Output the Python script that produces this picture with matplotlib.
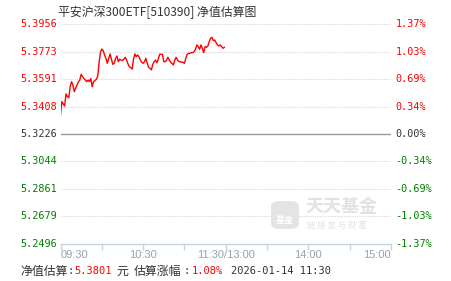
import matplotlib
matplotlib.use("Agg")
import matplotlib.pyplot as plt
from matplotlib.patches import FancyBboxPatch

# 估算净值 (每分钟, 从 09:30 开始)
minutes = list(range(120))
nav = [
    5.3352, 5.3441, 5.3425, 5.3412, 5.3492, 5.3474, 5.3467, 5.3540, 5.3573, 5.3551,
    5.3507, 5.3529, 5.3551, 5.3573, 5.3584, 5.3622, 5.3607, 5.3595, 5.3584, 5.3573,
    5.3584, 5.3573, 5.3595, 5.3540, 5.3573, 5.3580, 5.3589, 5.3607, 5.3699, 5.3766,
    5.3790, 5.3779, 5.3750, 5.3728, 5.3695, 5.3728, 5.3757, 5.3722, 5.3688, 5.3695,
    5.3728, 5.3744, 5.3706, 5.3722, 5.3717, 5.3713, 5.3722, 5.3735, 5.3717, 5.3691,
    5.3673, 5.3666, 5.3657, 5.3722, 5.3757, 5.3739, 5.3750, 5.3739, 5.3717, 5.3702,
    5.3695, 5.3706, 5.3728, 5.3695, 5.3668, 5.3662, 5.3651, 5.3688, 5.3706, 5.3717,
    5.3699, 5.3722, 5.3755, 5.3755, 5.3755, 5.3706, 5.3706, 5.3717, 5.3735, 5.3717,
    5.3702, 5.3695, 5.3684, 5.3717, 5.3735, 5.3717, 5.3706, 5.3706, 5.3702, 5.3702,
    5.3695, 5.3728, 5.3755, 5.3761, 5.3761, 5.3766, 5.3766, 5.3772, 5.3788, 5.3817,
    5.3806, 5.3788, 5.3817, 5.3795, 5.3766, 5.3806, 5.3801, 5.3810, 5.3839, 5.3861,
    5.3868, 5.3845, 5.3850, 5.3832, 5.3817, 5.3810, 5.3817, 5.3806, 5.3795, 5.3801,
]

prev_nav = 5.3226
y_ticks = [5.2496, 5.2679, 5.2861, 5.3044, 5.3226, 5.3408, 5.3591, 5.3773, 5.3956]
pct_labels = ["-1.37%", "-1.03%", "-0.69%", "-0.34%", "0.00%",
              "0.34%", "0.69%", "1.03%", "1.37%"]
x_ticks = [0, 30, 60, 90, 120, 150, 180, 210, 240]
x_labels = {0: "09:30", 60: "10:30", 120: "11:30/13:00", 180: "14:00", 240: "15:00"}

title = "平安沪深300ETF[510390] 净值估算图"
est_nav = "5.3801"
est_pct = "1.08%"
stamp = "2026-01-14 11:30"

W, H = 451, 281
fig = plt.figure(figsize=(W / 100, H / 100), dpi=100)
fig.patch.set_facecolor("white")

left, right, top, bottom = 60.5, 391, 24, 244
ax = fig.add_axes([left / W, 1 - bottom / H, (right - left) / W, (bottom - top) / H])
ax.set_xlim(0, 240)
ax.set_ylim(y_ticks[0], y_ticks[-1])

for v in y_ticks:
    if v == prev_nav:
        ax.axhline(v, color="#999999", lw=1.0, zorder=2)
    elif v != y_ticks[0]:
        ax.axhline(v, color="#d8d8d8", lw=0.8, ls=(0, (1, 1)), zorder=1)

ax.plot(minutes, nav, color="#ff0000", lw=1.0, zorder=3)

for s in ["left", "right", "top"]:
    ax.spines[s].set_visible(False)
ax.spines["bottom"].set_color("#c5d3e0")
ax.spines["bottom"].set_linewidth(1.0)
ax.set_yticks([])
ax.set_xticks(x_ticks)
ax.set_xticklabels([])
ax.tick_params(axis="x", length=4, width=1.0, color="#c5d3e0", direction="out")

mono = "DejaVu Sans Mono"
for v, p in zip(y_ticks, pct_labels):
    if v > prev_nav:
        c = "#ff0000"
    elif v < prev_nav:
        c = "#008000"
    else:
        c = "#333333"
    ax.text(-3.5 / (right - left) * 240, v, f"{v:.4f}", ha="right", va="center",
            fontsize=7.3, family=mono, color=c)
    ax.text(240 + 4.5 / (right - left) * 240, v, p, ha="left", va="center",
            fontsize=7.3, family=mono, color=c)

for m, lab in x_labels.items():
    ha = "left" if m == 0 else ("right" if m == 240 else "center")
    ax.text(m, y_ticks[0] - 0.0073, lab, ha=ha, va="center", fontsize=8,
            family="Liberation Sans", color="#a0a0a0")

cjk = ["Noto Sans CJK SC", "DejaVu Sans"]
fig.text(58 / W, 1 - 12.5 / H, title, ha="left", va="center", fontsize=8.6,
         family=cjk, color="#333333")

# 底部信息行
row_y = 1 - 271 / H
fig.text(20 / W, row_y, "净值估算", ha="left", va="center", fontsize=8.6, family=cjk, color="#333333")
fig.text(68 / W, row_y, ":", ha="left", va="center", fontsize=7.5, family=mono, color="#333333")
fig.text(74 / W, row_y, est_nav, ha="left", va="center", fontsize=7.5, family=mono, color="#ff0000")
fig.text(116 / W, row_y, "元", ha="left", va="center", fontsize=8.6, family=cjk, color="#333333")
fig.text(134 / W, row_y, "估算涨幅", ha="left", va="center", fontsize=8.6, family=cjk, color="#333333")
fig.text(184 / W, row_y, ":", ha="left", va="center", fontsize=7.5, family=mono, color="#333333")
fig.text(192 / W, row_y, est_pct, ha="left", va="center", fontsize=7.5, family=mono, color="#ff0000")
fig.text(231 / W, row_y, stamp, ha="left", va="center", fontsize=7.5, family=mono, color="#333333")

# 水印
icon = FancyBboxPatch((271 / W, 1 - 229 / H), 28 / W, 28 / H,
                      boxstyle="round,pad=0,rounding_size=0.02",
                      transform=fig.transFigure, facecolor="#e4e4e4",
                      edgecolor="none", zorder=0)
fig.patches.append(icon)
fig.text(285 / W, 1 - 220 / H, "基金", ha="center", va="center", fontsize=6.5,
         family=cjk, color="white", weight="bold")
fig.text(306 / W, 1 - 207 / H, "天天基金", ha="left", va="center", fontsize=13,
         family=cjk, color="#e2e2e2", weight="bold")
fig.text(307 / W, 1 - 225 / H, "链 接 您 与 财 富", ha="left", va="center", fontsize=6,
         family=cjk, color="#e2e2e2")

fig.savefig("out.png", dpi=100)
